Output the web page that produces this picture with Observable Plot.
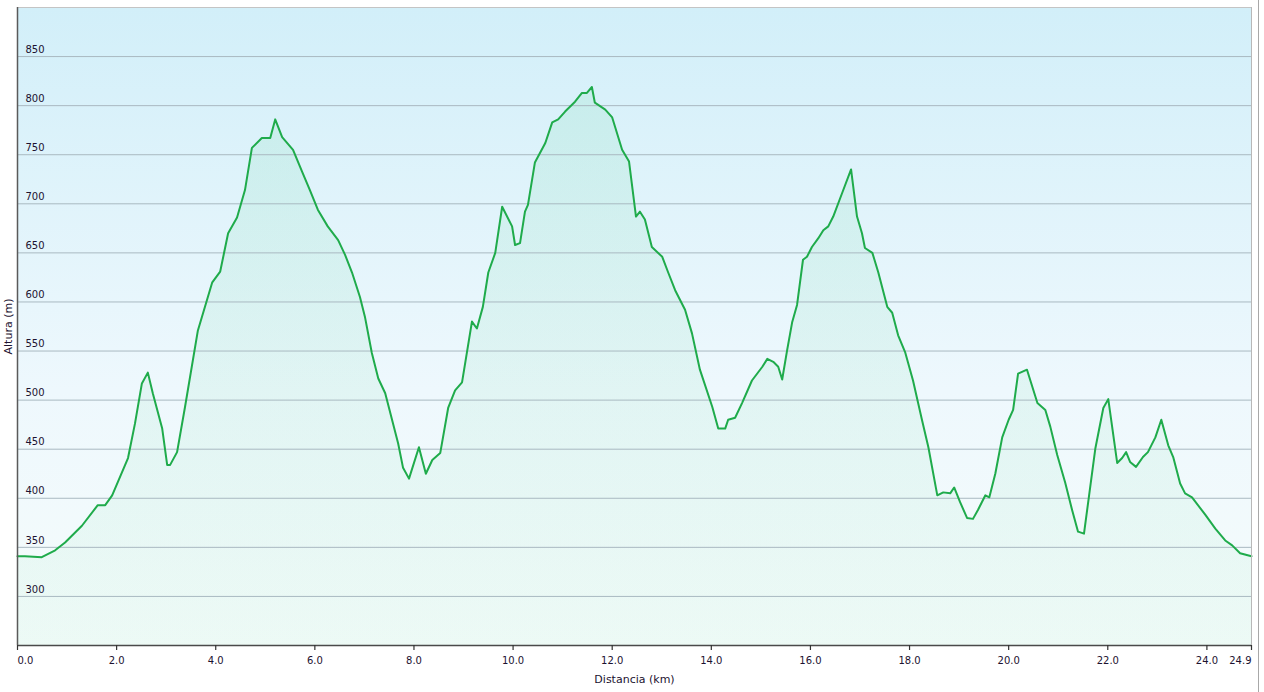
<!DOCTYPE html>
<html>
<head>
<meta charset="utf-8">
<script src="https://cdn.jsdelivr.net/npm/d3@7"></script>
<script src="https://cdn.jsdelivr.net/npm/@observablehq/plot@0.6"></script>
<style>
  html, body { margin: 0; padding: 0; background: #ffffff; }
  #wrap { position: relative; width: 1264px; height: 692px; }
  #edge { position: absolute; left: 1258px; top: 0; width: 1px; height: 692px; background: #a8a8a8; }
</style>
</head>
<body>
<div id="wrap"><div id="edge"></div></div>
<script>
// Distance along the route (km)
const distance = [
  0, 0.15, 0.49, 0.76, 0.96, 1.30, 1.62, 1.77, 1.91, 2.23,
  2.37, 2.51, 2.63, 2.73, 2.92, 3.02, 3.08, 3.22, 3.38, 3.64,
  3.93, 4.09, 4.25, 4.43, 4.59, 4.73, 4.93, 5.10, 5.20, 5.34,
  5.56, 5.74, 5.90, 6.06, 6.26, 6.47, 6.61, 6.75, 6.91, 7.01,
  7.15, 7.28, 7.42, 7.68, 7.78, 7.90, 8.10, 8.24, 8.37, 8.53,
  8.69, 8.83, 8.97, 9.17, 9.27, 9.39, 9.50, 9.64, 9.78, 9.98,
  10.04, 10.14, 10.24, 10.30, 10.44, 10.65, 10.79, 10.91, 11.05, 11.25,
  11.39, 11.49, 11.59, 11.65, 11.86, 12.00, 12.20, 12.34, 12.48, 12.56,
  12.66, 12.80, 13.01, 13.13, 13.27, 13.47, 13.61, 13.77, 14.02, 14.14,
  14.28, 14.34, 14.48, 14.62, 14.82, 15.03, 15.13, 15.25, 15.35, 15.43,
  15.53, 15.63, 15.73, 15.85, 15.93, 16.03, 16.16, 16.26, 16.36, 16.46,
  16.64, 16.82, 16.94, 17.04, 17.10, 17.25, 17.37, 17.55, 17.65, 17.77,
  17.91, 18.07, 18.25, 18.38, 18.56, 18.68, 18.82, 18.90, 19.02, 19.16,
  19.28, 19.38, 19.53, 19.61, 19.73, 19.87, 20.00, 20.09, 20.19, 20.37,
  20.58, 20.74, 20.84, 20.98, 21.14, 21.28, 21.40, 21.52, 21.75, 21.91,
  22.01, 22.19, 22.29, 22.37, 22.45, 22.57, 22.71, 22.81, 22.96, 23.08,
  23.22, 23.32, 23.46, 23.56, 23.70, 23.97, 24.17, 24.37, 24.51, 24.67,
  24.9
];
// Altitude (m)
const altitude = [
  341, 341, 340, 347, 355, 372, 393, 393, 403, 441,
  476, 517, 528, 507, 471, 434, 434, 447, 493, 571,
  620, 631, 670, 686, 714, 757, 767, 767, 786, 768,
  755, 733, 714, 694, 677, 663, 648, 630, 605, 585,
  548, 522, 507, 456, 431, 420, 452, 425, 439, 446,
  492, 510, 518, 580, 573, 595, 630, 650, 697, 677,
  658, 660, 692, 699, 742, 762, 783, 786, 794, 804,
  813, 813, 819, 803, 796, 788, 755, 743, 687, 692,
  684, 656, 646, 630, 612, 592, 568, 531, 493, 471,
  471, 480, 482, 497, 520, 534, 542, 539, 534, 521,
  551, 579, 597, 643, 646, 656, 665, 673, 677, 687,
  711, 735, 687, 670, 655, 650, 630, 595, 589, 566,
  549, 520, 480, 452, 403, 406, 405, 411, 396, 380,
  379, 388, 403, 401, 425, 462, 480, 490, 527, 531,
  497, 490, 473, 444, 416, 388, 366, 364, 451, 492,
  501, 436, 441, 447, 437, 432, 442, 447, 462, 480,
  454, 442, 415, 405, 401, 383, 369, 357, 352, 344,
  341
];
const yTicks = [300, 350, 400, 450, 500, 550, 600, 650, 700, 750, 800, 850];
const xTicks = [0, 2, 4, 6, 8, 10, 12, 14, 16, 18, 20, 22, 24, 24.9];
const xDomain = [0, 24.9];
const yDomain = [250, 900];
const xTitle = "Distancia (km)";
const yTitle = "Altura (m)";

const data = distance.map((d, i) => ({d, alt: altitude[i]}));
const fmt = v => v.toFixed(1);
const ink = "#1c1230";

const defs = () => {
  const g = d3.create("svg:g");
  const df = g.append("defs");
  const bg = df.append("linearGradient").attr("id", "bgGrad")
    .attr("x1", 0).attr("y1", 0).attr("x2", 0).attr("y2", 1);
  bg.append("stop").attr("offset", "0%").attr("stop-color", "#d2eff9");
  bg.append("stop").attr("offset", "60%").attr("stop-color", "#eef8fd");
  bg.append("stop").attr("offset", "100%").attr("stop-color", "#f5fcfb");
  const ar = df.append("linearGradient").attr("id", "areaGrad")
    .attr("x1", 0).attr("y1", 0).attr("x2", 0).attr("y2", 1);
  ar.append("stop").attr("offset", "0%").attr("stop-color", "#4fd08a").attr("stop-opacity", 0.12);
  ar.append("stop").attr("offset", "100%").attr("stop-color", "#4fd08a").attr("stop-opacity", 0.05);
  return g.node();
};

const chart = Plot.plot({
  width: 1264,
  height: 692,
  marginLeft: 17,
  marginRight: 13,
  marginTop: 7,
  marginBottom: 47,
  x: {domain: xDomain, axis: null},
  y: {domain: yDomain, axis: null},
  style: {fontFamily: "'DejaVu Sans', sans-serif", fontSize: "10px", color: ink, background: "transparent"},
  marks: [
    defs,
    Plot.frame({fill: "url(#bgGrad)", stroke: "none"}),
    Plot.areaY(data, {x: "d", y1: yDomain[0], y2: "alt", fill: "url(#areaGrad)", curve: "linear"}),
    Plot.ruleY(yTicks, {stroke: "#a9b9c1", strokeWidth: 1}),
    Plot.text(yTicks, {y: d => d, text: d => String(d), frameAnchor: "left", textAnchor: "start", lineAnchor: "middle", dx: 8, dy: -7, fill: ink}),
    Plot.line(data, {x: "d", y: "alt", stroke: "#1fab4b", strokeWidth: 2, strokeLinejoin: "round"}),
    Plot.ruleY([yDomain[1]], {stroke: "#c4c4c4", strokeWidth: 1}),
    Plot.ruleX([xDomain[1]], {stroke: "#b8b8b8", strokeWidth: 1}),
    Plot.ruleY([yDomain[0]], {stroke: "#4a4a4a", strokeWidth: 1.5}),
    Plot.ruleX([xDomain[0]], {stroke: "#5a5a5a", strokeWidth: 1.5}),
    Plot.axisX({ticks: xTicks, tickFormat: () => "", tickSize: 5, stroke: "#333", strokeWidth: 1.2, label: null}),
    Plot.text(xTicks.slice(0, 1), {x: d => d, text: fmt, frameAnchor: "bottom", textAnchor: "start", lineAnchor: "middle", dy: 15, fill: ink}),
    Plot.text(xTicks.slice(1, -1), {x: d => d, text: fmt, frameAnchor: "bottom", textAnchor: "middle", lineAnchor: "middle", dy: 15, fill: ink}),
    Plot.text(xTicks.slice(-1), {x: d => d, text: fmt, frameAnchor: "bottom", textAnchor: "end", lineAnchor: "middle", dy: 15, fill: ink}),
    Plot.text([xTitle], {text: d => d, frameAnchor: "bottom", textAnchor: "middle", lineAnchor: "middle", dy: 34, fontSize: 11, fill: ink}),
    Plot.text([yTitle], {text: d => d, frameAnchor: "left", textAnchor: "middle", lineAnchor: "middle", rotate: -90, dx: -9, fontSize: 11, fill: ink})
  ]
});
document.getElementById("wrap").appendChild(chart);
</script>
</body>
</html>
